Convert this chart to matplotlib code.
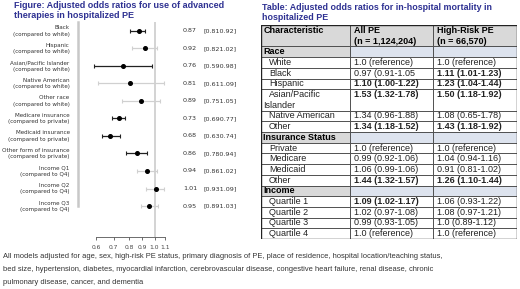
import matplotlib
matplotlib.use("Agg")
import matplotlib.pyplot as plt
from matplotlib.patches import Rectangle
from matplotlib.ticker import FixedLocator, NullLocator

W, H = 520, 289
fig = plt.figure(figsize=(W / 100, H / 100), dpi=100)

# forest plot data
labels = ["Black\n(compared to white)", "Hispanic\n(compared to white)",
          "Asian/Pacific Islander\n(compared to white)", "Native American\n(compared to white)",
          "Other race\n(compared to white)", "Medicare insurance\n(compared to private)",
          "Medicaid insurance\n(compared to private)", "Other form of insurance\n(compared to private)",
          "Income Q1\n(compared to Q4)", "Income Q2\n(compared to Q4)", "Income Q3\n(compared to Q4)"]
odds = [0.87, 0.92, 0.76, 0.81, 0.89, 0.73, 0.68, 0.86, 0.94, 1.01, 0.95]
ci_lo = [0.81, 0.82, 0.59, 0.61, 0.75, 0.69, 0.63, 0.78, 0.86, 0.93, 0.89]
ci_hi = [0.92, 1.02, 0.98, 1.09, 1.05, 0.77, 0.74, 0.94, 1.02, 1.09, 1.03]
ci_text = ["[0.810.92]", "[0.821.02]", "[0.590.98]", "[0.611.09]", "[0.751.05]", "[0.690.77]",
           "[0.630.74]", "[0.780.94]", "[0.861.02]", "[0.931.09]", "[0.891.03]"]
xticks = [0.6, 0.7, 0.8, 0.9, 1.0, 1.1]

# table data
row_names = ["Race", "White", "Black", "Hispanic", "Asian/Pacific\nIslander", "Native American", "Other",
             "Insurance Status", "Private", "Medicare", "Medicaid", "Other",
             "Income", "Quartile 1", "Quartile 2", "Quartile 3", "Quartile 4"]
all_pe = ["", "1.0 (reference)", "0.97 (0.91-1.05", "1.10 (1.00-1.22)", "1.53 (1.32-1.78)",
          "1.34 (0.96-1.88)", "1.34 (1.18-1.52)", "", "1.0 (reference)", "0.99 (0.92-1.06)",
          "1.06 (0.99-1.06)", "1.44 (1.32-1.57)", "", "1.09 (1.02-1.17)", "1.02 (0.97-1.08)",
          "0.99 (0.93-1.05)", "1.0 (reference)"]
high_risk = ["", "1.0 (reference)", "1.11 (1.01-1.23)", "1.23 (1.04-1.44)", "1.50 (1.18-1.92)",
             "1.08 (0.65-1.78)", "1.43 (1.18-1.92)", "", "1.0 (reference)", "1.04 (0.94-1.16)",
             "0.91 (0.81-1.02)", "1.26 (1.10-1.44)", "", "1.06 (0.93-1.22)", "1.08 (0.97-1.21)",
             "1.0 (0.89-1.12)", "1.0 (reference)"]
bold_all = [3, 4, 6, 11, 13]
bold_high = [2, 3, 4, 6, 11]
sections = [0, 7, 12]

blue = "#2E3192"
arial = "Liberation Sans"


def fx(px):
    return px / W


def fy(py):
    return 1 - py / H


# titles
fig.text(fx(14), fy(1), "Figure: Adjusted odds ratios for use of advanced\ntherapies in hospitalized PE",
         color=blue, fontsize=6.5, fontweight="bold", family=arial, va="top", linespacing=1.1)
fig.text(fx(262), fy(3), "Table: Adjusted odds ratios for in-hospital mortality in\nhospitalized PE",
         color=blue, fontsize=6.4, fontweight="bold", family=arial, va="top", linespacing=1.15)

# ---- forest plot ----
ax = fig.add_axes([fx(78), fy(237), fx(172) - fx(78), fy(22) - fy(237)])
ax.set_xscale("log")
ax.set_xlim(0.512, 1.165)
n = len(odds)
ax.set_ylim(11.77, -0.51)
ax.axvline(1.0, color="#cccccc", lw=1.2, zorder=0)
for i in range(n):
    sig = ci_hi[i] < 1.0
    col = "#222222" if sig else "#d0d0d0"
    ax.errorbar(odds[i], i, xerr=[[odds[i] - ci_lo[i]], [ci_hi[i] - odds[i]]], fmt="none",
                ecolor=col, elinewidth=0.9, capsize=1.5, capthick=0.8, zorder=2)
    ax.plot(odds[i], i, "o", color="black", ms=2.6, zorder=3)
    ax.text(-0.09, i, labels[i], transform=ax.get_yaxis_transform(), ha="right", va="center",
            fontsize=4.1, color="#333333", linespacing=1.3)
    yp = fig.transFigure.inverted().transform(ax.transData.transform((1.0, i)))[1]
    fig.text(fx(183), yp, f"{odds[i]:.2f}", fontsize=4.6, color="#333333", va="center")
    fig.text(fx(203), yp, ci_text[i], fontsize=4.6, color="#333333", va="center")

for s in ["top", "right"]:
    ax.spines[s].set_visible(False)
ax.spines["left"].set_color("#c8c8c8")
ax.spines["left"].set_linewidth(1.8)
ax.spines["left"].set_bounds(-0.5, 10.0)
ax.spines["bottom"].set_bounds(0.6, 1.1)
ax.spines["bottom"].set_linewidth(0.6)
ax.spines["bottom"].set_color("#555555")
ax.xaxis.set_major_locator(FixedLocator(xticks))
ax.xaxis.set_minor_locator(NullLocator())
ax.set_xticklabels([f"{v:.1f}" for v in xticks])
ax.tick_params(axis="x", labelsize=4.3, labelcolor="#444444", length=2.5, width=0.6,
               color="#555555", pad=3)
ax.set_yticks([])

# ---- table ----
tx0, tx1 = 261, 517
ty0, ty1 = 25, 239
col_edges = [261, 350, 433, 517]
tax = fig.add_axes([fx(tx0), fy(ty1), fx(tx1) - fx(tx0), fy(ty0) - fy(ty1)])
tax.set_xlim(tx0, tx1)
heights = [2] + [2 if "\n" in r else 1 for r in row_names]
total = sum(heights)
tax.set_ylim(total, 0)
tax.axis("off")
fs = 6.5
hdr_fill = "#d9d9d9"
sec_fill2 = "#dde3ee"
grid = "#444444"
# header
for c in range(3):
    tax.add_patch(Rectangle((col_edges[c], 0), col_edges[c + 1] - col_edges[c], 2,
                            facecolor=hdr_fill, edgecolor=grid, lw=0.6))
tax.text(col_edges[0] + 3, 0.55, "Characteristic", fontsize=fs, fontweight="bold", family=arial, va="center")
tax.text(col_edges[1] + 4, 0.55, "All PE", fontsize=fs, fontweight="bold", family=arial, va="center")
tax.text(col_edges[1] + 4, 1.5, "(n = 1,124,204)", fontsize=fs, fontweight="bold", family=arial, va="center")
tax.text(col_edges[2] + 4, 0.55, "High-Risk PE", fontsize=fs, fontweight="bold", family=arial, va="center")
tax.text(col_edges[2] + 4, 1.5, "(n = 66,570)", fontsize=fs, fontweight="bold", family=arial, va="center")
y = 2
for r, name in enumerate(row_names):
    h = heights[r + 1]
    for c in range(3):
        fc = "white"
        if r in sections:
            fc = hdr_fill if c == 0 else sec_fill2
        tax.add_patch(Rectangle((col_edges[c], y), col_edges[c + 1] - col_edges[c], h,
                                facecolor=fc, edgecolor=grid, lw=0.6))
    if r in sections:
        tax.text(col_edges[0] + 2, y + 0.5, name, fontsize=fs, fontweight="bold", family=arial, va="center")
    else:
        lines = name.split("\n")
        for k, ln in enumerate(lines):
            tax.text(col_edges[0] + 8 if k == 0 else col_edges[0] + 2, y + 0.5 + k, ln,
                     fontsize=fs, family=arial, va="center", color="#222222")
        tax.text(col_edges[1] + 4, y + 0.5, all_pe[r], fontsize=fs, family=arial, va="center",
                 fontweight="bold" if r in bold_all else "normal", color="#222222")
        tax.text(col_edges[2] + 4, y + 0.5, high_risk[r], fontsize=fs, family=arial, va="center",
                 fontweight="bold" if r in bold_high else "normal", color="#222222")
    y += h
tax.add_patch(Rectangle((tx0, 0), tx1 - tx0, total, fill=False, edgecolor="#222222", lw=1.0))

# footnote
foot = ["All models adjusted for age, sex, high-risk PE status, primary diagnosis of PE, place of residence, hospital location/teaching status,",
        "bed size, hypertension, diabetes, myocardial infarction, cerebrovascular disease, congestive heart failure, renal disease, chronic",
        "pulmonary disease, cancer, and dementia"]
for k, ln in enumerate(foot):
    fig.text(fx(3), fy(257 + 12.5 * k), ln, fontsize=5.4, family=arial, color="#333333", va="center")

fig.savefig("out.png", dpi=100)
